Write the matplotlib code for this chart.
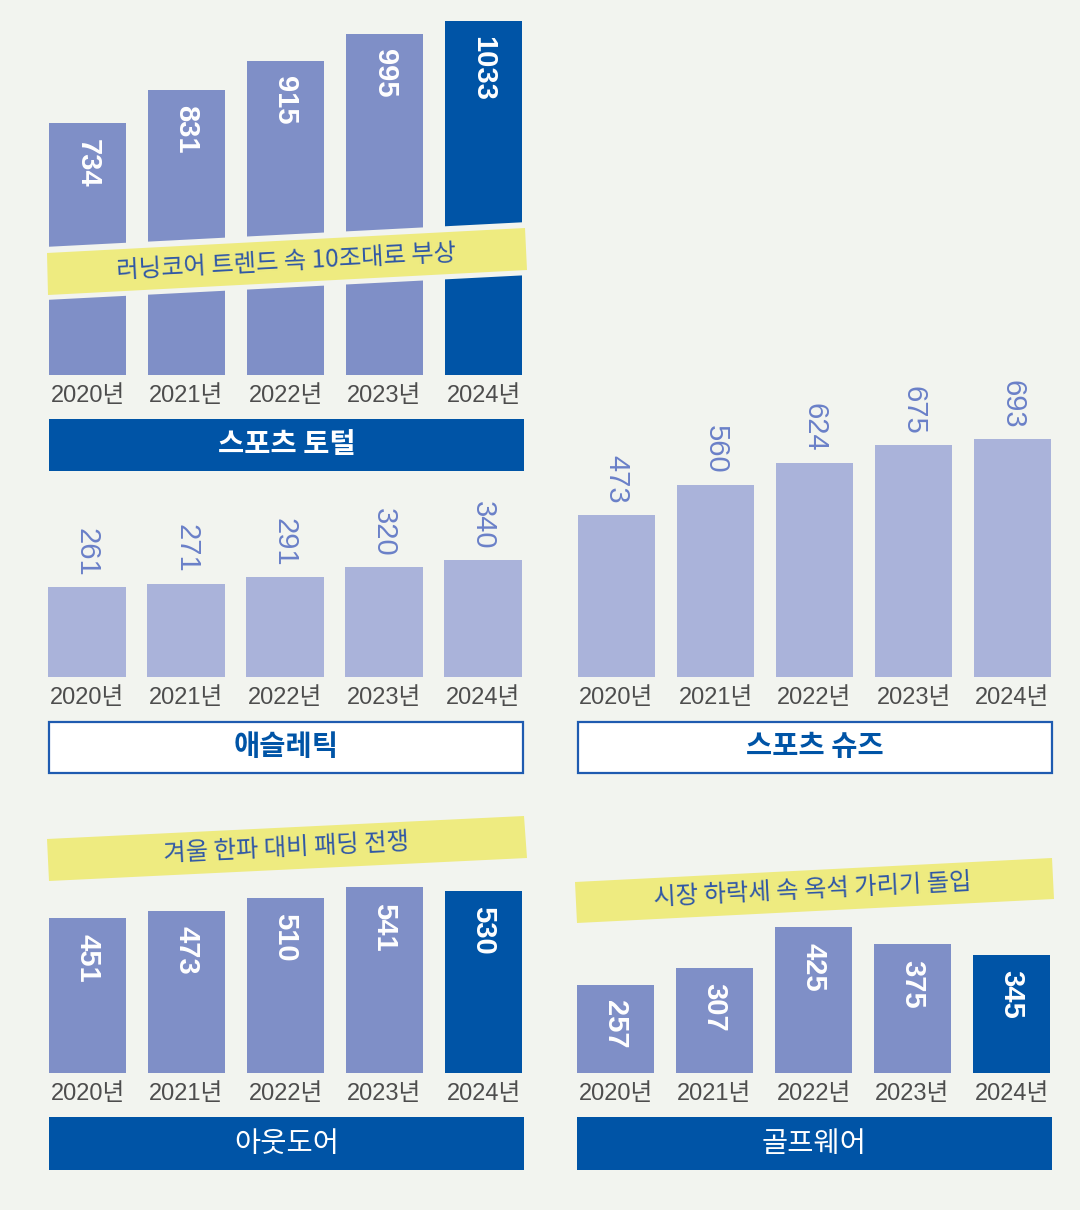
import matplotlib
matplotlib.use('Agg')
import matplotlib.pyplot as plt
from matplotlib.patches import Polygon, Rectangle

# data (단위: 백억원 추정)
years = ['2020년', '2021년', '2022년', '2023년', '2024년']
total = [734, 831, 915, 995, 1033]
athletic = [261, 271, 291, 320, 340]
shoes = [473, 560, 624, 675, 693]
outdoor = [451, 473, 510, 541, 530]
golf = [257, 307, 425, 375, 345]

BG = '#f2f4ef'
MID = '#7f8fc7'
DARK = '#0054a6'
LIGHT = '#aab3da'
YELLOW = '#eeeb80'
BAND_TXT = '#2f57a6'
NUM_FONT = ['Liberation Sans', 'Noto Sans CJK KR']
KR_FONT = ['Noto Sans CJK KR', 'DejaVu Sans']

W, H = 1080, 1210
K = 0.343  # px per unit, same scale in every panel

fig = plt.figure(figsize=(W / 100, H / 100), dpi=100, facecolor=BG)


def panel(c0, base, top, vals, colors, inside):
    ax = fig.add_axes([(c0 - 49.5) / W, 1 - base / H, 495 / W, (base - top) / H])
    ax.set_xlim(-0.5, 4.5)
    ax.set_ylim(0, (base - top) / K)
    x = range(len(vals))
    ax.bar(x, vals, width=0.78, color=colors, edgecolor='none')
    for i, v in enumerate(vals):
        if inside:
            ax.annotate(str(v), (i, v), xytext=(0, -11), textcoords='offset points',
                        rotation=270, ha='center', va='top', color='white',
                        fontsize=21, fontweight='bold', family=NUM_FONT)
        else:
            ax.annotate(str(v), (i, v), xytext=(0, 8), textcoords='offset points',
                        rotation=270, ha='center', va='bottom', color='#6a80c8',
                        fontsize=21, family=NUM_FONT)
    ax.set_xticks(list(x))
    ax.set_xticklabels(years, family=NUM_FONT, fontsize=17, color='#4d4d4d')
    ax.tick_params(axis='x', length=0, pad=7.5)
    ax.set_yticks([])
    for s in ax.spines.values():
        s.set_visible(False)
    ax.patch.set_alpha(0)
    return ax


hl = [MID, MID, MID, MID, DARK]
panel(87.5, 375, 10, total, hl, True)
panel(87, 677, 480, athletic, [LIGHT] * 5, False)
panel(616.5, 677, 370, shoes, [LIGHT] * 5, False)
panel(87.5, 1073, 870, outdoor, hl, True)
panel(615.5, 1073, 900, golf, hl, True)

# overlay in pixel coords for bands and title boxes
ov = fig.add_axes([0, 0, 1, 1], zorder=5)
ov.set_xlim(0, W)
ov.set_ylim(H, 0)
ov.axis('off')
ov.patch.set_alpha(0)


def band(pts, text, cx, cy, ang, cut=False):
    if cut:
        (x1, y1), (x2, y2), (x3, y3), (x4, y4) = pts
        ov.add_patch(Polygon([(x1 - 3, y1 - 6), (x2 + 3, y2 - 6), (x3 + 3, y3 + 5), (x4 - 3, y4 + 5)],
                             closed=True, facecolor=BG, edgecolor='none'))
    ov.add_patch(Polygon(pts, closed=True, facecolor=YELLOW, edgecolor='none'))
    ov.text(cx, cy, text, rotation=ang, rotation_mode='anchor', ha='center', va='center',
            fontsize=17.5, color=BAND_TXT, family=KR_FONT, fontweight='medium')


band([(47, 253), (525, 228), (527, 270), (48, 295)], '러닝코어 트렌드 속 10조대로 부상', 286, 262, 3.0, cut=True)
band([(47, 839), (524, 816), (527, 858), (49, 881)], '겨울 한파 대비 패딩 전쟁', 286, 848, 2.8)
band([(575, 882), (1052, 858), (1054, 899), (577, 923)], '시장 하락세 속 옥석 가리기 돌입', 813, 890, 2.9)


def title_box(x, y, w, h, text, filled, bold=True):
    if filled:
        ov.add_patch(Rectangle((x, y), w, h, facecolor=DARK, edgecolor='none'))
        col = 'white'
    else:
        ov.add_patch(Rectangle((x, y), w, h, facecolor='white', edgecolor='#1f5bb0', linewidth=1.6))
        col = DARK
    ov.text(x + w / 2, y + h / 2, text, ha='center', va='center', fontsize=20.5, color=col,
            family=KR_FONT, fontweight='bold' if bold else 'normal')


title_box(49, 419, 475, 52, '스포츠 토털', True)
title_box(49, 722, 474, 51, '애슬레틱', False)
title_box(578, 722, 474, 51, '스포츠 슈즈', False)
title_box(49, 1117, 475, 53, '아웃도어', True, bold=False)
title_box(577, 1117, 475, 53, '골프웨어', True, bold=False)

fig.savefig('out.png', dpi=100, facecolor=BG)
